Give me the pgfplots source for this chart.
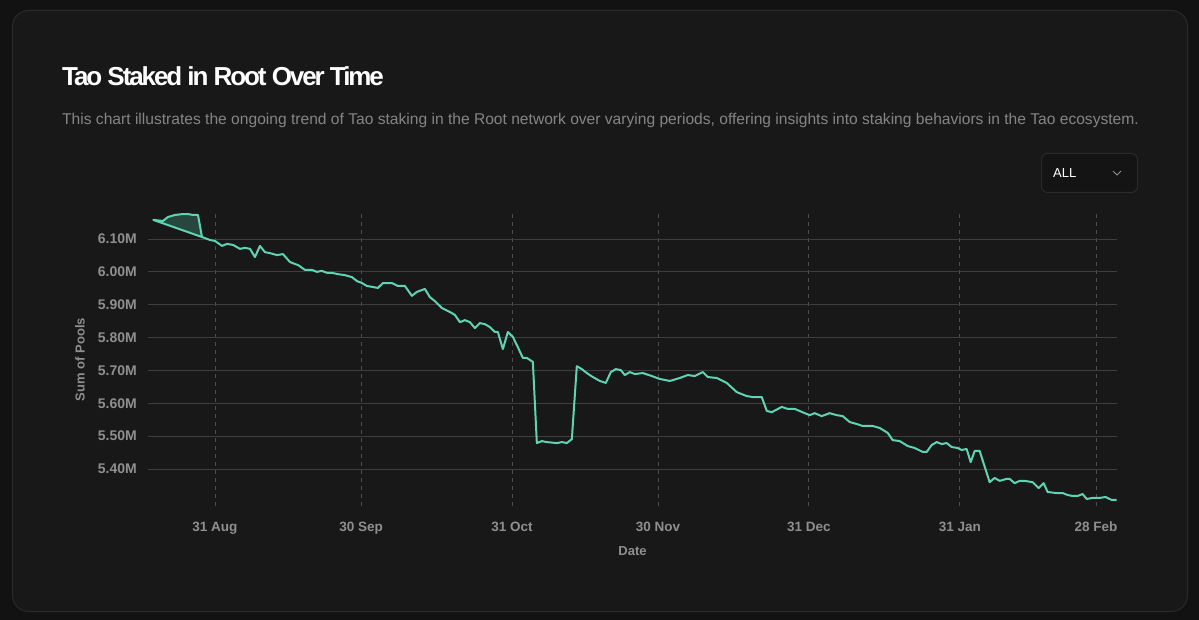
\documentclass[border=0pt]{standalone}
\usepackage{fontspec}
\setmainfont{Liberation Sans}
\usepackage{pgfplots}
\pgfplotsset{compat=1.18}
\definecolor{outerbg}{HTML}{121212}
\definecolor{cardbg}{HTML}{181818}
\definecolor{cardborder}{HTML}{2A2A2A}
\definecolor{linec}{HTML}{5FD4B1}
\definecolor{fillc}{HTML}{27463D}
\definecolor{gridc}{HTML}{3E3E3E}
\definecolor{vgrid}{HTML}{4C4C4C}
\definecolor{tickc}{HTML}{8F8F8F}
\definecolor{subc}{HTML}{858585}
\definecolor{boxbg}{HTML}{141414}

\begin{document}
\begin{tikzpicture}[x=1pt,y=1pt]
\fill[outerbg] (0,0) rectangle (1199,-620);
\draw[cardborder, fill=cardbg, rounded corners=16pt, line width=1pt] (12.5,-10.5) rectangle (1187.5,-611.5);
\node[anchor=west, text=white, inner sep=0pt, font=\fontsize{26}{30}\selectfont\bfseries\addfontfeatures{LetterSpace=-8}] at (62,-76) {Tao Staked in Root Over Time};
\node[anchor=west, text=subc, inner sep=0pt, font=\fontsize{15.6}{18}\selectfont] at (62,-120) {This chart illustrates the ongoing trend of Tao staking in the Root network over varying periods, offering insights into staking behaviors in the Tao ecosystem.};
\draw[cardborder, fill=boxbg, rounded corners=6pt, line width=1pt] (1041.5,-153.5) rectangle (1137.5,-192.5);
\node[anchor=west, text=white, inner sep=0pt, font=\fontsize{13}{15}\selectfont] at (1053,-173) {ALL};
\draw[tickc, line width=1pt] (1113,-171) -- (1117,-175) -- (1121,-171);

\begin{axis}[
  at={(148pt,-506pt)}, anchor=south west,
  width=969pt, height=293pt, scale only axis,
  xmin=-13.76, xmax=185.3, ymin=5.2875, ymax=6.1791,
  clip=false,
  axis line style={draw=none},
  major tick length=0pt,
  xtick={0,30,61,91,122,153,181},
  xticklabels={31 Aug,30 Sep,31 Oct,30 Nov,31 Dec,31 Jan,28 Feb},
  ytick={5.4,5.5,5.6,5.7,5.8,5.9,6.0,6.1},
  yticklabels={5.40M,5.50M,5.60M,5.70M,5.80M,5.90M,6.00M,6.10M},
  xmajorgrids, ymajorgrids,
  major x grid style={vgrid, line width=0.8pt, dash pattern=on 4pt off 4pt},
  major y grid style={gridc, line width=0.9pt},
  yticklabel style={font=\fontsize{14}{16}\selectfont\bfseries, text=tickc, anchor=east, inner sep=0pt, xshift=-11pt},
  xticklabel style={font=\fontsize{13.5}{16}\selectfont\bfseries, text=tickc, anchor=base, inner sep=0pt, yshift=-25.5pt},
  xlabel={Date}, ylabel={Sum of Pools},
  xlabel style={at={(axis description cs:0.5,-0.1536)}, anchor=center, font=\fontsize{13}{15}\selectfont\bfseries, text=tickc, inner sep=0pt},
  ylabel style={at={(axis description cs:-0.0702,0.5)}, anchor=center, rotate=0, font=\fontsize{13}{15}\selectfont\bfseries, text=tickc, inner sep=0pt},
]
\addplot[draw=linec, fill=fillc, line width=2pt, line join=round] coordinates {
(-12.67,6.158) (-10.68,6.155) (-9.65,6.167) (-8.21,6.173) (-6.57,6.176)
(-5.54,6.176) (-4.52,6.173) (-3.49,6.173) (-2.67,6.106)
} -- cycle;
\addplot[draw=linec, line width=2pt, line join=round] table {
x y
-2.67 6.106
-1.03 6.097
0 6.094
1.44 6.079
2.46 6.085
3.70 6.082
5.13 6.070
6.16 6.073
7.19 6.070
8.21 6.045
9.24 6.079
10.27 6.060
11.29 6.057
12.73 6.051
13.96 6.054
15.40 6.030
16.43 6.024
17.04 6.021
18.48 6.006
19.92 6.006
20.94 6.000
21.97 6.003
23.00 5.997
24.02 5.997
25.26 5.993
26.69 5.990
28.13 5.984
29.16 5.972
30.18 5.966
31.21 5.957
32.44 5.954
33.47 5.951
34.50 5.966
36.34 5.966
37.58 5.957
39.01 5.957
40.45 5.927
41.48 5.939
43.12 5.948
44.15 5.923
45.17 5.911
46.61 5.890
48.25 5.878
49.28 5.869
50.31 5.847
51.33 5.853
52.36 5.847
53.39 5.829
54.41 5.844
55.44 5.841
56.47 5.832
57.49 5.817
58.11 5.817
59.14 5.765
60.16 5.817
61.19 5.802
62.22 5.771
63.24 5.738
64.07 5.738
65.30 5.726
66.12 5.479
67.15 5.485
68.17 5.482
70.23 5.479
71.25 5.482
72.28 5.479
73.31 5.491
74.33 5.713
75.36 5.704
76.39 5.692
77.62 5.680
79.06 5.668
80.29 5.662
81.31 5.695
82.34 5.704
83.37 5.701
84.19 5.686
85.22 5.695
86.24 5.689
87.89 5.692
89.73 5.683
91.38 5.674
93.43 5.668
95.48 5.677
97.13 5.686
98.56 5.683
100.21 5.695
101.23 5.680
103.08 5.677
105.13 5.662
107.19 5.634
109.24 5.622
110.47 5.619
112.32 5.619
113.35 5.577
114.37 5.573
116.43 5.589
117.66 5.583
119.10 5.583
121.15 5.570
122.18 5.564
123.20 5.570
124.64 5.561
126.28 5.570
127.72 5.564
128.95 5.561
130.39 5.543
131.83 5.537
133.06 5.531
135.11 5.531
136.55 5.525
138.19 5.510
139.22 5.488
140.66 5.485
142.30 5.470
143.74 5.464
145.38 5.452
146.20 5.452
147.23 5.473
148.25 5.482
149.28 5.476
150.31 5.479
151.33 5.467
152.57 5.464
153.39 5.458
154.41 5.461
155.24 5.421
156.06 5.455
157.08 5.455
159.14 5.360
160.16 5.373
161.19 5.364
162.63 5.370
163.24 5.370
164.27 5.357
165.30 5.364
166.32 5.364
167.97 5.360
169.20 5.342
170.23 5.357
171.05 5.330
172.90 5.327
174.13 5.327
175.15 5.321
176.18 5.318
177.21 5.318
178.23 5.324
179.06 5.309
180.29 5.312
181.72 5.312
182.96 5.315
184.19 5.306
185.22 5.306
};
\end{axis}
\end{tikzpicture}
\end{document}
